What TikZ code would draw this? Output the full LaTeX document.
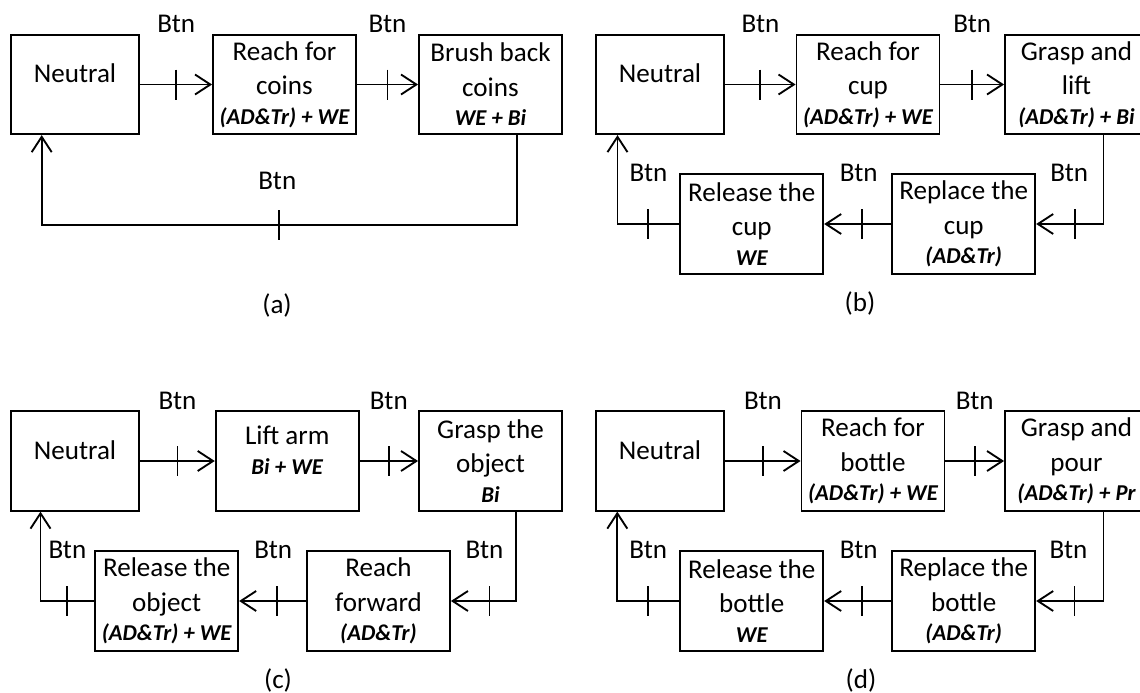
\documentclass[tikz,border=0pt]{standalone}
\usepackage{fontspec}
\setmainfont{Carlito}
\usetikzlibrary{arrows.meta}

\newcommand{\boxfont}{\fontsize{20.3}{25.8}\selectfont}
\newcommand{\muscles}[1]{{\fontsize{17}{21}\selectfont\bfseries\itshape #1}}

\tikzset{
  state/.style={draw, line width=1.4pt, minimum width=107.25pt, minimum height=74.5pt,
    inner sep=0pt, align=center, font=\boxfont},
  neutral/.style={state, minimum width=96.5pt,
    label={[font=\boxfont, yshift=8.4pt]center:Neutral}},
  link/.style={line width=1.4pt, -{Straight Barb[length=11.5pt, width=15pt, line width=1.4pt]}},
  tickmark/.style={line width=1.4pt},
  btn/.style={font=\boxfont},
  panel/.style={font=\boxfont},
}

\begin{document}
\begin{tikzpicture}[x=0.75pt, y=-0.75pt]
\useasboundingbox (0,0) rectangle (1140,693);
\clip (0,0) rectangle (1140,693);

% (a) coins
\node[neutral] (a1) at (75,84.5) {};
\node[state] (a2) at (284.5,84.5) {Reach for\\coins\\[-3.5pt]\muscles{(AD\&Tr) + WE}};
\node[state] (a3) at (490.5,84.5) {Brush back\\coins\\[-3.5pt]\muscles{WE + Bi}};
\draw[link] (a1) -- coordinate[midway] (a12) (a2);
\draw[link] (a2) -- coordinate[midway] (a23) (a3);
\draw[link] ([shift={(26.5,0)}]a3.south) -- ++(0,90) -| coordinate[pos=0.25] (a31) ([shift={(-33.3,0)}]a1.south);
\node[panel] (la) at (277,305) {(a)};

% (b) cup
\node[neutral] (b1) at (660,84.5) {};
\node[state] (b2) at (868,84.5) {Reach for\\cup\\[-3.5pt]\muscles{(AD\&Tr) + WE}};
\node[state] (b3) at (1076.5,84.5) {Grasp and\\lift\\[-3.5pt]\muscles{(AD\&Tr) + Bi}};
\node[state] (b4) at (963.75,224) {Replace the\\cup\\[-3.5pt]\muscles{(AD\&Tr)}};
\node[state] (b5) at (751.75,224) {Release the\\cup\\[-3.5pt]\muscles{WE}};
\draw[link] (b1) -- coordinate[midway] (b12) (b2);
\draw[link] (b2) -- coordinate[midway] (b23) (b3);
\draw[link] ([shift={(27,0)}]b3.south) |- coordinate[pos=0.71] (b34) (b4);
\draw[link] (b4) -- coordinate[pos=0.44] (b45) (b5);
\draw[link] (b5) -| coordinate[pos=0.25] (b51) ([shift={(-42.5,0)}]b1.south);
\node[panel] (lb) at (860,303) {(b)};

% (c) object
\node[neutral] (c1) at (75,461) {};
\node[state, label={[font=\boxfont, align=center, yshift=7.9pt]center:{Lift arm\\[-3.5pt]\muscles{Bi + WE}}}] (c2) at (287.2,461) {};
\node[state] (c3) at (490.5,461) {Grasp the\\object\\[-3.5pt]\muscles{Bi}};
\node[state] (c4) at (378.5,601) {Reach\\forward\\[-3.5pt]\muscles{(AD\&Tr)}};
\node[state] (c5) at (166.7,601) {Release the\\object\\[-3.5pt]\muscles{(AD\&Tr) + WE}};
\draw[link] (c1) -- coordinate[midway] (c12) (c2);
\draw[link] (c2) -- coordinate[midway] (c23) (c3);
\draw[link] ([shift={(25.9,0)}]c3.south) |- coordinate[pos=0.705] (c34) (c4);
\draw[link] (c4) -- coordinate[pos=0.43] (c45) (c5);
\draw[link] (c5) -| coordinate[pos=0.25] (c51) ([shift={(-34.5,0)}]c1.south);
\node[panel] (lc) at (278,680) {(c)};

% (d) bottle
\node[neutral] (d1) at (660,461) {};
\node[state] (d2) at (873,461) {Reach for\\bottle\\[-3.5pt]\muscles{(AD\&Tr) + WE}};
\node[state] (d3) at (1076.5,461) {Grasp and\\pour\\[-3.5pt]\muscles{(AD\&Tr) + Pr}};
\node[state] (d4) at (963.75,601) {Replace the\\bottle\\[-3.5pt]\muscles{(AD\&Tr)}};
\node[state] (d5) at (751.75,601) {Release the\\bottle\\[-3.5pt]\muscles{WE}};
\draw[link] (d1) -- coordinate[midway] (d12) (d2);
\draw[link] (d2) -- coordinate[midway] (d23) (d3);
\draw[link] ([shift={(27,0)}]d3.south) |- coordinate[pos=0.715] (d34) (d4);
\draw[link] (d4) -- coordinate[pos=0.44] (d45) (d5);
\draw[link] (d5) -| coordinate[pos=0.25] (d51) ([shift={(-42.7,0)}]d1.south);
\node[panel] (ld) at (861,680) {(d)};

% button ticks and their labels
\foreach \t/\dx/\dy in {a12/0/-60.5, a23/0/-60.5, a31/-2/-44,
    b12/0/-60.5, b23/0/-60.5, b34/-6/-51, b45/-3/-51, b51/0/-51,
    c12/0/-60.5, c23/0/-60.5, c34/-5/-51, c45/-4/-51, c51/0/-51,
    d12/0/-60.5, d23/0/-60.5, d34/-6/-51, d45/-3/-51, d51/0/-51} {
  \draw[tickmark] ([yshift=11.25pt]\t) -- ([yshift=-11.25pt]\t);
  \node[btn] (l\t) at ([shift={(\dx,\dy)}]\t) {Btn};
}
\end{tikzpicture}
\end{document}
